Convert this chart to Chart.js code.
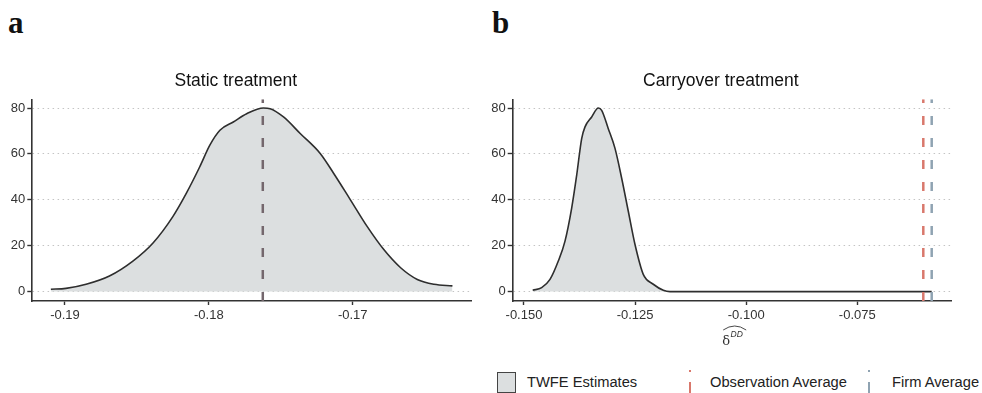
<!DOCTYPE html>
<html>
<head>
<meta charset="utf-8">
<script src="https://cdn.jsdelivr.net/npm/chart.js@4"></script>
<style>
  body { margin: 0; width: 982px; height: 393px; overflow: hidden; background: #fff; position: relative; font-family: "Liberation Sans", Arial, sans-serif; }
  .panel { position: absolute; top: 40px; height: 320px; }
  .tag { position: absolute; top: 5px; font: bold 31px "Liberation Serif", serif; color: #111; }
  .legend { position: absolute; top: 370px; left: 497px; width: 485px; height: 23px; white-space: nowrap; font-size: 14.7px; color: #222; }
  .legend span { position: absolute; top: 4px; }
  .swatch { position: absolute; left: 0; top: 2px; width: 17px; height: 19px; background: #dcdfe0; border: 1.5px solid #444; }
  .vkey { position: absolute; width: 2px; }
</style>
</head>
<body>
<div class="tag" style="left:8px">a</div>
<div class="tag" style="left:492px">b</div>
<div class="panel" style="left:0;width:490px"><canvas id="chartA"></canvas></div>
<div class="panel" style="left:490px;width:492px"><canvas id="chartB"></canvas></div>
<div class="legend">
  <div class="swatch"></div><span style="left:30px">TWFE Estimates</span>
  <div class="vkey" style="left:192px;top:0px;height:2px;background:#d9786c"></div>
  <div class="vkey" style="left:192px;top:12px;height:11px;background:#d9786c"></div>
  <span style="left:213px">Observation Average</span>
  <div class="vkey" style="left:371px;top:0px;height:2px;background:#8fa3b2"></div>
  <div class="vkey" style="left:371px;top:12px;height:11px;background:#8fa3b2"></div>
  <span style="left:395px">Firm Average</span>
</div>
<script>
// density of the static-treatment estimates
const staticX = [-0.19098, -0.18993, -0.18853, -0.18691, -0.18528, -0.18388, -0.18249, -0.18156, -0.18063, -0.17993, -0.17923, -0.1783, -0.17737, -0.17621, -0.17574, -0.17481, -0.17365, -0.17226, -0.17133, -0.17016, -0.169, -0.16784, -0.16667, -0.16551, -0.16435, -0.16307]
const staticY = [1.0, 1.4, 3.2, 6.8, 13.3, 21.2, 32.8, 42.9, 54.4, 63.8, 70.3, 73.9, 77.5, 80, 79.7, 76.1, 68.9, 60.2, 51.6, 40, 28.4, 18.3, 10.4, 5.3, 3.2, 2.5]
const staticMean = -0.17625

// density of the carryover-treatment estimates
const carryX = [-0.14804, -0.14602, -0.14415, -0.14228, -0.14077, -0.13927, -0.13814, -0.13702, -0.13627, -0.13477, -0.13328, -0.13252, -0.13103, -0.12952, -0.12802, -0.12653, -0.12502, -0.12316, -0.12091, -0.11865, -0.11715, -0.05826]
const carryY = [0.6, 1.7, 5.3, 13.3, 22, 36.4, 50.8, 66.7, 71.8, 76.1, 80, 79, 71, 62.4, 49.4, 35, 20.5, 7.5, 3.2, 0.6, 0, 0]
const obsAverage = -0.06015
const firmAverage = -0.05826

const yTicks = [0, 20, 40, 60, 80]
const staticTicks = [-0.19, -0.18, -0.17]
const carryTicks = [-0.150, -0.125, -0.100, -0.075]
const yMin = -4.1, yMax = 83.8

const tickFont = { family: '"Liberation Sans", Arial, sans-serif', size: 13 }

function vline(x, color) {
    return {
        data: [{ x: x, y: yMin }, { x: x, y: yMax }],
        borderColor: color, borderWidth: 2.5, borderDash: [9, 13],
        pointRadius: 0, fill: false, order: 0
    }
}

function density(xs, ys) {
    return {
        data: xs.map((x, i) => ({ x: x, y: ys[i] })),
        borderColor: '#2e2e2e', borderWidth: 1.6,
        backgroundColor: '#dcdfe0', fill: 'origin',
        pointRadius: 0, cubicInterpolationMode: 'monotone', order: 1
    }
}

function makeOptions(title, xMin, xMax, xTicks, yWidth, padRight, decimals) {
    return {
        responsive: false, animation: false,
        layout: { padding: { left: 0, right: padRight, top: 0, bottom: 0 } },
        plugins: {
            legend: { display: false }, tooltip: { enabled: false },
            title: { display: true, text: title, color: '#111',
                font: { family: '"Liberation Sans", Arial, sans-serif', size: 17.5, weight: 'normal' },
                padding: { top: 30.5, bottom: 7.8 } }
        },
        scales: {
            x: {
                type: 'linear', min: xMin, max: xMax,
                afterBuildTicks: s => { s.ticks = xTicks.map(v => ({ value: v })) },
                afterFit: s => { s.height = 59 },
                ticks: { color: '#333', font: tickFont, padding: 3, maxRotation: 0,
                    callback: v => v.toFixed(decimals) },
                grid: { drawOnChartArea: false, tickLength: 4, tickColor: '#333', tickWidth: 1.4 },
                border: { color: '#333', width: 1.6 }
            },
            y: {
                min: yMin, max: yMax,
                afterBuildTicks: s => { s.ticks = yTicks.map(v => ({ value: v })) },
                afterFit: s => { s.width = yWidth },
                ticks: { color: '#333', font: tickFont, padding: 2 },
                grid: { color: '#c4c4c4', lineWidth: 1, tickLength: 5, tickColor: '#333', tickWidth: 1.4 },
                border: { color: '#333', width: 1.6, dash: [1.5, 3.5] }
            }
        }
    }
}

// hat-delta-DD axis title under the right panel
const deltaTitle = {
    id: 'deltaTitle',
    afterDraw(chart) {
        const ctx = chart.ctx
        const cx = (chart.chartArea.left + chart.chartArea.right) / 2
        ctx.save()
        ctx.fillStyle = '#333'
        ctx.strokeStyle = '#333'
        ctx.textBaseline = 'alphabetic'
        ctx.font = '13px "DejaVu Serif", serif'
        ctx.textAlign = 'center'
        ctx.fillText('δ', cx - 6, 305)
        ctx.font = 'italic 8.5px "Liberation Sans", Arial, sans-serif'
        ctx.fillText('DD', cx + 4.5, 297)
        ctx.lineWidth = 0.9
        ctx.beginPath()
        ctx.moveTo(cx - 9, 290)
        ctx.quadraticCurveTo(cx + 2.5, 282, cx + 14, 290)
        ctx.stroke()
        ctx.restore()
    }
}

const canvasA = document.getElementById('chartA')
canvasA.width = 490; canvasA.height = 320
new Chart(canvasA, {
    type: 'line',
    data: { datasets: [vline(staticMean, '#74676d'), density(staticX, staticY)] },
    options: makeOptions('Static treatment', -0.19227, -0.16173, staticTicks, 32.3, 18.3, 2)
})

const canvasB = document.getElementById('chartB')
canvasB.width = 492; canvasB.height = 320
new Chart(canvasB, {
    type: 'line',
    data: { datasets: [vline(obsAverage, '#d9786c'), vline(firmAverage, '#8fa3b2'), density(carryX, carryY)] },
    options: makeOptions('Carryover treatment', -0.15254, -0.05376, carryTicks, 22.7, 30.3, 3),
    plugins: [deltaTitle]
})
</script>
</body>
</html>
